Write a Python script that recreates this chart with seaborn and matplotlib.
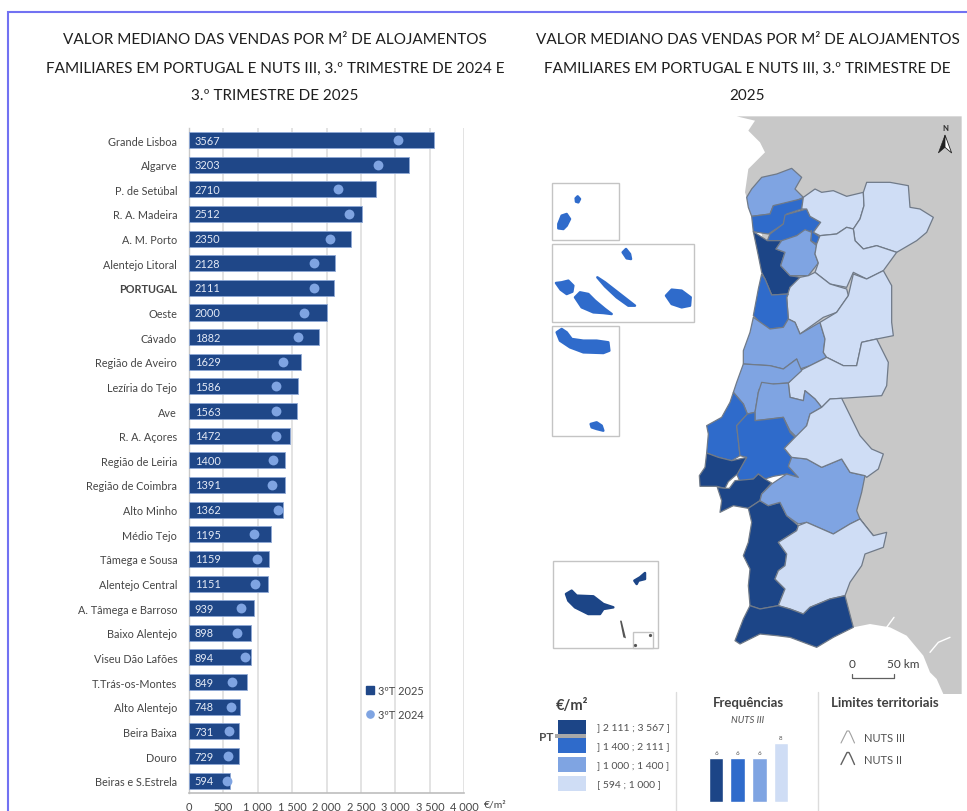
import matplotlib
matplotlib.use("Agg")
import matplotlib.pyplot as plt
from matplotlib.lines import Line2D
from matplotlib.patches import Patch, Polygon, Rectangle
import pandas as pd
import seaborn as sns

# ---------- data ----------
regioes = ["Grande Lisboa", "Algarve", "P. de Setúbal", "R. A. Madeira", "A. M. Porto",
           "Alentejo Litoral", "PORTUGAL", "Oeste", "Cávado", "Região de Aveiro",
           "Lezíria do Tejo", "Ave", "R. A. Açores", "Região de Leiria", "Região de Coimbra",
           "Alto Minho", "Médio Tejo", "Tâmega e Sousa", "Alentejo Central",
           "A. Tâmega e Barroso", "Baixo Alentejo", "Viseu Dão Lafões", "T.Trás-os-Montes",
           "Alto Alentejo", "Beira Baixa", "Douro", "Beiras e S.Estrela"]
valores_2025 = [3567, 3203, 2710, 2512, 2350, 2128, 2111, 2000, 1882, 1629, 1586, 1563, 1472,
                1400, 1391, 1362, 1195, 1159, 1151, 939, 898, 894, 849, 748, 731, 729, 594]
valores_2024 = [3032, 2751, 2160, 2330, 2044, 1821, 1821, 1676, 1579, 1371, 1269, 1259, 1259,
                1220, 1206, 1288, 949, 988, 964, 755, 697, 818, 630, 605, 581, 567, 552]
eixo_valores = [0, 500, 1000, 1500, 2000, 2500, 3000, 3500, 4000]
eixo_rotulos = ["0", "500", "1 000", "1 500", "2 000", "2 500", "3 000", "3 500", "4 000"]

classes_rotulos = ["] 2 111 ; 3 567 ]", "] 1 400 ; 2 111 ]", "] 1 000 ; 1 400 ]", "[ 594 ; 1 000 ]"]
classes_freq = [6, 6, 6, 8]

# Map geometry (map units)
espanha = [(140, 22), (815, 22), (815, 1755), (760, 1755), (740, 1710), (720, 1690), (700, 1640),
           (650, 1580), (600, 1555), (540, 1545), (490, 1555), (300, 1000), (260, 600), (200, 300),
           (170, 265), (165, 250), (175, 180), (225, 130), (210, 100), (175, 65), (195, 35)]
regioes_mapa = {
    "Alto Minho": (2, [(170, 265), (185, 240), (215, 205), (260, 195), (305, 178), (335, 205), (315, 240),
                       (340, 265), (300, 285), (250, 290), (240, 315), (185, 322), (175, 295)]),
    "Cávado": (1, [(185, 322), (240, 315), (250, 290), (340, 268), (335, 300), (290, 315), (280, 345),
                   (235, 375), (190, 368)]),
    "Ave": (1, [(285, 318), (350, 300), (360, 322), (392, 340), (370, 370), (390, 385), (380, 405),
                (362, 395), (365, 365), (340, 375), (320, 380), (280, 395), (232, 395), (240, 375),
                (280, 345)]),
    "Porto": (0, [(190, 368), (232, 395), (275, 395), (258, 420), (285, 430), (272, 470), (300, 500),
                  (330, 505), (325, 525), (300, 535), (295, 555), (245, 558), (225, 510), (215, 490),
                  (205, 440)]),
    "Tâmega e Sousa": (2, [(275, 395), (320, 380), (345, 362), (365, 370), (362, 395), (380, 410),
                           (375, 435), (385, 462), (355, 500), (300, 500), (272, 470), (285, 430),
                           (258, 420)]),
    "A. Tâmega e Barroso": (3, [(340, 265), (375, 240), (395, 250), (430, 245), (470, 262), (520, 250),
                                (522, 290), (510, 330), (490, 360), (470, 355), (440, 375), (390, 380),
                                (370, 370), (392, 340), (360, 322), (350, 300), (335, 300)]),
    "T. Trás-os-Montes": (3, [(520, 250), (530, 220), (600, 220), (655, 230), (660, 295), (690, 300),
                              (730, 325), (710, 370), (680, 395), (620, 430), (560, 410), (520, 420),
                              (495, 395), (490, 360), (510, 330), (522, 290)]),
    "Douro": (3, [(380, 405), (390, 380), (440, 375), (470, 355), (490, 360), (495, 395), (520, 420),
                  (560, 410), (620, 430), (580, 485), (530, 510), (490, 490), (470, 535), (420, 525),
                  (375, 490), (385, 462), (375, 435)]),
    "Viseu Dão Lafões": (3, [(300, 535), (330, 505), (355, 500), (375, 490), (420, 525), (470, 540),
                             (475, 560), (440, 610), (400, 625), (330, 675), (315, 640), (295, 630),
                             (290, 565)]),
    "Região de Aveiro": (1, [(215, 495), (225, 510), (245, 558), (295, 555), (290, 565), (295, 630),
                             (280, 655), (240, 660), (210, 640), (190, 620), (205, 540)]),
    "Região de Coimbra": (2, [(190, 625), (240, 660), (280, 655), (295, 630), (315, 640), (330, 675),
                              (390, 640), (405, 690), (400, 730), (410, 745), (360, 770), (330, 780),
                              (320, 750), (280, 780), (240, 770), (160, 765), (160, 725), (180, 670)]),
    "Beiras e S. Estrela": (3, [(390, 640), (440, 610), (475, 560), (490, 495), (530, 510), (580, 485),
                                (605, 530), (605, 640), (610, 680), (560, 690), (515, 700), (500, 770),
                                (460, 770), (410, 745), (400, 730), (405, 690)]),
    "Beira Baixa": (3, [(295, 822), (320, 790), (360, 770), (410, 745), (460, 770), (500, 770), (515, 700),
                        (560, 690), (595, 760), (590, 830), (575, 860), (455, 868), (420, 870),
                        (395, 895), (375, 870), (345, 845), (340, 875), (300, 865)]),
    "Região de Leiria": (2, [(160, 765), (240, 770), (280, 780), (320, 750), (335, 785), (295, 822),
                             (250, 825), (208, 840), (205, 850), (195, 910), (172, 915), (160, 885),
                             (130, 850), (140, 820)]),
    "Médio Tejo": (2, [(205, 850), (215, 820), (250, 825), (295, 822), (300, 865), (340, 875), (345, 845),
                       (375, 870), (395, 895), (360, 915), (350, 950), (320, 985), (300, 965), (280, 925),
                       (240, 930), (195, 935), (195, 910)]),
    "Oeste": (1, [(130, 850), (160, 885), (172, 915), (140, 950), (150, 1040), (125, 1055), (85, 1045),
                  (50, 1032), (55, 975), (50, 950), (95, 925), (120, 880)]),
    "Lezíria": (1, [(172, 915), (195, 910), (195, 935), (240, 930), (280, 925), (300, 970), (315, 985),
                    (283, 1018), (305, 1045), (295, 1072), (325, 1105), (290, 1095), (250, 1102), (225, 1110),
                    (205, 1095), (190, 1110), (150, 1118), (140, 1095), (170, 1045), (150, 1040), (140, 950)]),
    "Grande Lisboa": (0, [(50, 1032), (85, 1045), (125, 1055), (170, 1045), (142, 1095), (130, 1105),
                          (115, 1118), (105, 1138), (80, 1132), (30, 1132), (28, 1100), (45, 1075)]),
    "Setúbal": (0, [(135, 1115), (190, 1110), (205, 1095), (225, 1110), (245, 1122), (215, 1155), (210, 1175),
                    (175, 1198), (130, 1190), (90, 1210), (95, 1175), (82, 1135), (105, 1138), (118, 1138)]),
    "Alentejo Litoral": (0, [(175, 1198), (210, 1175), (235, 1190), (270, 1180), (290, 1220), (325, 1250),
                             (320, 1265), (265, 1300), (290, 1335), (285, 1370), (265, 1385), (255, 1410),
                             (285, 1440), (265, 1490), (210, 1500), (180, 1490), (175, 1430), (180, 1380),
                             (160, 1340), (175, 1300), (185, 1240)]),
    "Alentejo Central": (2, [(215, 1155), (245, 1125), (290, 1095), (325, 1105), (295, 1072), (305, 1045),
                             (350, 1050), (395, 1075), (455, 1050), (480, 1090), (525, 1100), (515, 1150),
                             (500, 1205), (510, 1230), (550, 1280), (540, 1270), (510, 1230), (480, 1245),
                             (430, 1275), (350, 1240), (325, 1245), (290, 1220), (270, 1180), (235, 1190),
                             (210, 1175)]),
    "Alto Alentejo": (3, [(283, 1018), (315, 985), (350, 950), (360, 915), (395, 895), (420, 870), (455, 868),
                          (510, 980), (545, 1020), (580, 1035), (565, 1080), (530, 1105), (525, 1100),
                          (480, 1090), (455, 1050), (395, 1075), (350, 1050), (305, 1045)]),
    "Baixo Alentejo": (3, [(265, 1300), (320, 1265), (325, 1250), (350, 1240), (430, 1275), (480, 1245),
                           (510, 1230), (550, 1280), (590, 1270), (580, 1315), (525, 1335), (515, 1370),
                           (480, 1420), (465, 1460), (420, 1470), (360, 1495), (340, 1515), (300, 1500),
                           (265, 1490), (285, 1440), (255, 1410), (265, 1385), (285, 1370), (290, 1335)]),
    "Algarve": (0, [(180, 1490), (210, 1500), (265, 1490), (300, 1500), (340, 1515), (360, 1495), (420, 1470),
                    (465, 1460), (490, 1555), (430, 1585), (380, 1615), (340, 1600), (300, 1585), (260, 1580),
                    (210, 1575), (150, 1605), (135, 1595), (160, 1530)]),
}
ilhas = {
    "Corvo": (1, [(-343, 268), (-337, 262), (-330, 270), (-335, 280), (-342, 278)]),
    "Flores": (1, [(-395, 345), (-385, 320), (-370, 315), (-360, 330), (-370, 350), (-380, 360), (-395, 358)]),
    "Graciosa": (1, [(-202, 430), (-192, 420), (-180, 435), (-177, 450), (-190, 448)]),
    "Faial": (1, [(-402, 522), (-385, 520), (-365, 515), (-350, 530), (-353, 548), (-370, 555), (-388, 542)]),
    "Pico": (1, [(-345, 565), (-330, 550), (-305, 555), (-285, 575), (-255, 600), (-235, 615), (-260, 612),
                 (-290, 610), (-325, 595)]),
    "São Jorge": (1, [(-278, 505), (-255, 520), (-210, 555), (-165, 590), (-185, 590), (-220, 565), (-255, 532)]),
    "Terceira": (1, [(-72, 560), (-55, 542), (-25, 545), (2, 565), (0, 590), (-25, 595), (-55, 585)]),
    "São Miguel": (1, [(-400, 670), (-385, 660), (-370, 670), (-355, 690), (-320, 695), (-280, 695), (-245, 700),
                       (-242, 725), (-260, 732), (-320, 730), (-360, 715), (-390, 695)]),
    "Santa Maria": (1, [(-298, 945), (-280, 940), (-265, 950), (-260, 965), (-280, 960), (-295, 955)]),
    "Madeira": (0, [(-372, 1455), (-355, 1445), (-340, 1460), (-290, 1462), (-260, 1485), (-230, 1495),
                    (-260, 1500), (-270, 1515), (-305, 1515), (-345, 1495), (-365, 1475)]),
    "Porto Santo": (0, [(-167, 1415), (-150, 1405), (-135, 1392), (-135, 1410), (-155, 1415), (-160, 1425)]),
}
desertas = [(-210, 1535), (-205, 1535), (-192, 1588), (-200, 1585)]

cores_bar = "#1F4788"
cores_pt = "#7FA4E2"
cores_classes = ["#1C4587", "#2F6BCB", "#7FA4E2", "#CFDDF5"]
cinza = "#C8C8C8"

# ---------- theme ----------
sns.set_theme(style="whitegrid")
plt.rcParams["font.family"] = ["Lato", "DejaVu Sans"]
W, H = 967, 812
fig = plt.figure(figsize=(W / 100, H / 100), dpi=100, facecolor="white")


def axes_px(x0, y0, x1, y1, **kw):
    return fig.add_axes([x0 / W, 1 - y1 / H, (x1 - x0) / W, (y1 - y0) / H], **kw)


# page layer
page = axes_px(0, 0, W, H, zorder=0)
page.set_xlim(0, W)
page.set_ylim(H, 0)
page.axis("off")
page.plot([7.5, 7.5, W], [H, 12.5, 12.5], color="#7272F2", lw=1.5, solid_joinstyle="miter")

titulo_esq = ["VALOR MEDIANO DAS VENDAS POR M² DE ALOJAMENTOS",
              "FAMILIARES EM PORTUGAL E NUTS III, 3.º TRIMESTRE DE 2024 E",
              "3.º TRIMESTRE DE 2025"]
titulo_dir = ["VALOR MEDIANO DAS VENDAS POR M² DE ALOJAMENTOS",
              "FAMILIARES EM PORTUGAL E NUTS III, 3.º TRIMESTRE DE",
              "2025"]
for y, a, b in zip([39.5, 68.5, 96.5], titulo_esq, titulo_dir):
    page.text(275, y, a, ha="center", va="center", fontsize=10.95, color="#1F1F1F")
    page.text(747.5, y, b, ha="center", va="center", fontsize=10.95, color="#1F1F1F")

# ---------- bar chart ----------
df = pd.DataFrame({"regiao": regioes, "v2025": valores_2025, "v2024": valores_2024})
ax = axes_px(189, 128.7, 464.3, 794, zorder=2)
ax.patch.set_alpha(0)
sns.barplot(data=df, y="regiao", x="v2025", color=cores_bar, saturation=1, width=0.65, ax=ax,
            edgecolor="#8FA9D6", linewidth=0.6, zorder=3)
sns.scatterplot(data=df, x="v2024", y="regiao", color=cores_pt, s=50, linewidth=0, ax=ax, zorder=4)
ax.set_xlim(0, 4000)
ax.set_ylim(26.5, -0.5)
ax.set_xlabel("")
ax.set_ylabel("")
ax.set_xticks(eixo_valores, eixo_rotulos)
ax.tick_params(axis="x", labelsize=7.9, labelcolor="#454545", pad=6, length=0)
ax.tick_params(axis="y", labelsize=7.8, labelcolor="#454545", pad=8.5, length=0)
ax.grid(axis="x", color="#DEDEDE", lw=1.2, zorder=0)
ax.grid(axis="y", visible=False)
for s in ["top", "right"]:
    ax.spines[s].set_visible(False)
ax.spines["left"].set_color("#C9C9C9")
ax.spines["bottom"].set_color("#BDBDBD")
ax.spines["left"].set_linewidth(1)
ax.spines["bottom"].set_linewidth(1.2)
for lab in ax.get_yticklabels():
    if lab.get_text() == "PORTUGAL":
        lab.set_fontweight("bold")
for i, v in enumerate(valores_2025):
    ax.annotate(str(v), (0, i), xytext=(4.2, 0), textcoords="offset points", va="center", ha="left",
                fontsize=7.9, color="#E4EAF6", zorder=5)
page.text(495, 805.5, "€/m²", fontsize=7.5, color="#454545", ha="center", va="center")
ax.legend(handles=[Patch(color=cores_bar, label="3ºT 2025"),
                   Line2D([], [], marker="o", ls="", color=cores_pt, ms=5.2, label="3ºT 2024")],
          frameon=False, loc="upper left", bbox_to_anchor=(365.5, 686), bbox_transform=page.transData,
          fontsize=7.9, labelcolor="#454545", labelspacing=1.15, handlelength=0.75, handleheight=0.75,
          handletextpad=0.4, borderpad=0, borderaxespad=0)

# ---------- map ----------
m = axes_px(520, 100, W, H, zorder=1)
m.set_xlim(-510, 831)
m.set_ylim(2106, -30)
m.axis("off")
m.add_patch(Polygon(espanha, closed=True, fc=cinza, ec="none"))
m.plot([590, 612], [1555, 1525], color="white", lw=1)
m.plot([720, 745, 780], [1630, 1600, 1585], color="white", lw=1)
for nome, (classe, pts) in regioes_mapa.items():
    m.add_patch(Polygon(pts, closed=True, fc=cores_classes[classe], ec="#707A88", lw=0.9, joinstyle="round"))
for x0, y0, x1, y1 in [(-415, 222, -212, 393), (-415, 405, 12, 640), (-415, 652, -212, 980),
                       (-410, 1355, -95, 1618), (-172, 1570, -112, 1618)]:
    m.add_patch(Rectangle((x0, y0), x1 - x0, y1 - y0, fc="white", ec="#C4C4C4", lw=1))
for nome, (classe, pts) in ilhas.items():
    m.add_patch(Polygon(pts, closed=True, fc=cores_classes[classe], ec=cores_classes[classe], lw=1.8,
                        joinstyle="round"))
m.add_patch(Polygon(desertas, closed=True, fc="#555555", ec="none"))
m.plot([-120, -165], [1578, 1607], ls="", marker="o", ms=1.3, color="#555555")
# scale bar and north arrow
m.plot([487, 487, 612, 612], [1695, 1707, 1707, 1695], color="#606060", lw=0.9)
m.text(487, 1665, "0", ha="center", va="center", fontsize=8.5, color="#404040")
m.text(640, 1665, "50 km", ha="center", va="center", fontsize=8.5, color="#404040")
m.text(765, 55, "N", ha="center", va="center", fontsize=5.5, fontweight="bold", color="#303030")
m.add_patch(Polygon([(765, 78), (745, 132), (765, 115)], closed=True, fc="#222222", ec="#222222", lw=0.4))
m.add_patch(Polygon([(765, 78), (785, 132), (765, 115)], closed=True, fc="white", ec="#222222", lw=0.6))

# ---------- legend block ----------
page.text(572, 706.5, "€/m²", ha="center", va="center", fontsize=10.5, fontweight="bold", color="#404040")
for (y0, y1), c, lab, yl in zip([(720.7, 735), (739.3, 754), (758.3, 772.7), (777.3, 791.7)], cores_classes,
                                classes_rotulos, [728, 747, 766, 785]):
    page.add_patch(Rectangle((558.3, y0), 27.7, y1 - y0, fc=c, ec="none"))
    page.text(597, yl, lab, ha="left", va="center", fontsize=7.5, color="#505050")
page.add_patch(Rectangle((555, 735), 31, 4.3, fc="#A8A8A8", ec="none"))
page.text(546.5, 737.5, "PT", ha="center", va="center", fontsize=8.5, fontweight="bold", color="#505050")
page.plot([676, 676], [693, H], color="#DCDCDC", lw=1)
page.plot([818, 818], [693, H], color="#DCDCDC", lw=1)
page.text(748, 703, "Frequências", ha="center", va="center", fontsize=9.5, fontweight="bold", color="#404040")
page.text(748, 720.5, "NUTS III", ha="center", va="center", fontsize=6.8, style="italic", color="#505050")
page.text(885, 703, "Limites territoriais", ha="center", va="center", fontsize=9.5, fontweight="bold",
          color="#404040")
page.text(864, 739, "NUTS III", ha="left", va="center", fontsize=8, color="#505050")
page.text(864, 760.5, "NUTS II", ha="left", va="center", fontsize=8, color="#505050")
for dy, c, lw in [(0, "#A0A0A0", 0.8), (21.5, "#606060", 1.0)]:
    page.plot([841, 845, 847, 849, 851, 854.5], [744 + dy, 736 + dy, 732 + dy, 732 + dy, 736 + dy, 744 + dy],
              color=c, lw=lw)

f = axes_px(705.2, 730, 791.8, 803.3, zorder=2)
f.patch.set_alpha(0)
df_f = pd.DataFrame({"classe": classes_rotulos, "freq": classes_freq})
sns.barplot(data=df_f, x="classe", y="freq", hue="classe", palette=cores_classes, saturation=1, width=0.68,
            legend=False, ax=f)
f.set_xlim(-0.5, 3.5)
f.set_ylim(0, 73.3 / 7.38)
f.axis("off")
for i, v in enumerate(classes_freq):
    f.annotate(str(v), (i, v), xytext=(0, 2), textcoords="offset points", ha="center", va="bottom",
               fontsize=4.5, color="#505050")

fig.savefig("out.png", dpi=100)
